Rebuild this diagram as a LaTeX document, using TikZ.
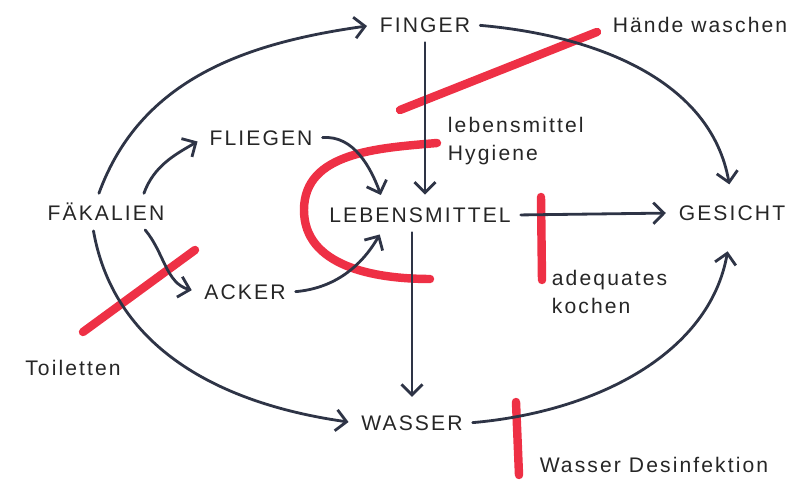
\documentclass[tikz,border=0pt]{standalone}
\usepackage{fontspec}
\newfontfamily\handfont[LetterSpace=10]{Liberation Sans}
\usepackage{xcolor}
\usepackage{tikz}
\usetikzlibrary{arrows.meta}
\definecolor{inkblue}{HTML}{2E3446}
\definecolor{markred}{HTML}{EE3045}

\begin{document}
\begin{tikzpicture}[x=0.025cm, y=0.025cm,
    word/.style={text=black!85, inner sep=4pt, font=\handfont\fontsize{15}{20}\selectfont},
    note/.style={word, align=left},
    flow/.style={draw=inkblue, line width=2pt, line cap=round, line join=round,
                 shorten <=3pt, shorten >=5pt, -{Straight Barb[length=7.5pt,width=15pt]}},
    cross/.style={draw=markred, line width=6pt, line cap=round}]
    \useasboundingbox (0,0) rectangle (790,480);

    \draw[cross] (400,370) -- (597,448);
    \draw[cross] (437,337) to[out=185,in=90] (304,270) to[out=-90,in=180] (430,201);
    \draw[cross] (541,283) -- (542,200);
    \draw[cross] (83,148) -- (195,230);
    \draw[cross] (516,78) -- (519,5);

    \node[word] (faekal) at (106,268) {FÄKALIEN};
    \node[word] (finger) at (425,455) {FINGER};
    \node[word] (fliegen) at (261,342) {FLIEGEN};
    \node[word] (lebensm) at (420,265) {LEBENSMITTEL};
    \node[word] (gesicht) at (732,267) {GESICHT};
    \node[word] (acker) at (245,188) {ACKER};
    \node[word] (wasser) at (412,57) {WASSER};

    \node[word] (haende) at (700,455) {Hände waschen};
    \node[note, anchor=west] (hygiene) at (442,339) {lebensmittel\\Hygiene};
    \node[note, anchor=west] (kochen) at (546,188) {adequates\\kochen};
    \node[word] (toilette) at (73,112) {Toiletten};
    \node[word] (desinf) at (654,15) {Wasser Desinfektion};

    \draw[flow] (faekal.120) to[out=70,in=188] (finger.west);
    \draw[flow] (faekal.22) to[out=70,in=210] (fliegen.west);
    \draw[flow] (fliegen.east) to[out=5,in=110] (lebensm.160);
    \draw[flow] (faekal.-22) to[out=-50,in=165] (acker.west);
    \draw[flow] (acker.east) to[out=5,in=240] (lebensm.200);
    \draw[flow] (faekal.-132) to[out=-80,in=172] (wasser.west);
    \draw[flow] (finger.south) -- (finger.south |- lebensm.north);
    \draw[flow, shorten >=11pt] (finger.east) to[out=-5,in=100] (gesicht.north);
    \draw[flow] (lebensm.east) -- (gesicht.west);
    \draw[flow, shorten >=9pt] (wasser.north |- lebensm.south) -- (wasser.north);
    \draw[flow, shorten >=18pt] (wasser.east) to[out=5,in=260] (gesicht.south);
\end{tikzpicture}
\end{document}
